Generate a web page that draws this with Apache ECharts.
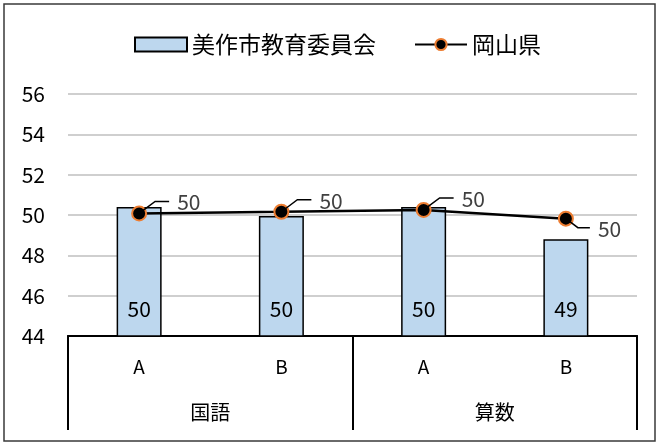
<!DOCTYPE html>
<html>
<head>
<meta charset="utf-8">
<script src="https://cdn.jsdelivr.net/npm/echarts@6/dist/echarts.min.js"></script>
<style>html,body{margin:0;padding:0;background:#fff}#c{width:659px;height:444px}</style>
</head>
<body>
<div id="c"></div>
<script>
var subCategories = ['A', 'B', 'A', 'B'];
var groupCategories = ['国語', '算数'];
var barName = '美作市教育委員会';
var lineName = '岡山県';
var barValues = [50.4, 49.95, 50.4, 48.8];
var lineValues = [50.08, 50.16, 50.25, 49.82];
var yTicks = { min: 44, max: 56, interval: 2 };

var FONT = '"Noto Sans CJK JP", "Noto Sans", sans-serif';
var chart = echarts.init(document.getElementById('c'), null, { renderer: 'canvas' });

function leaderItem(params, api) {
  var idx = api.value(0);
  var val = api.value(1);
  var p = api.coord([idx, val]);
  var below = params.dataIndex === 3;
  var pts, tx, ty;
  if (below) {
    pts = [[p[0] + 4, p[1] + 3], [p[0] + 12, p[1] + 9], [p[0] + 24, p[1] + 9]];
    tx = p[0] + 32; ty = p[1] + 10;
  } else {
    pts = [[p[0] + 4, p[1] - 3], [p[0] + 16, p[1] - 12], [p[0] + 30, p[1] - 12]];
    tx = p[0] + 38; ty = p[1] - 11;
  }
  return {
    type: 'group',
    children: [{
      type: 'polyline', shape: { points: pts },
      style: { stroke: '#000', lineWidth: 1.5, fill: null }
    }, {
      type: 'text', x: tx, y: ty,
      style: {
        text: String(Math.round(val)), fill: '#404040',
        font: '21px ' + FONT, textAlign: 'left', textVerticalAlign: 'middle'
      }
    }]
  };
}

chart.setOption({
  animation: false,
  backgroundColor: '#fff',
  textStyle: { fontFamily: FONT },
  graphic: [{
    type: 'rect', shape: { x: 4, y: 4, width: 651, height: 437 },
    style: { fill: 'none', stroke: '#3a3a3a', lineWidth: 1.5 }, z: 100, silent: true
  }],
  legend: {
    left: 129, top: 28,
    itemWidth: 52, itemHeight: 14, itemGap: 38,
    textStyle: { fontSize: 23, color: '#000', fontFamily: FONT },
    data: [{ name: barName, icon: 'rect' }, { name: lineName }]
  },
  grid: { left: 68, right: 22, top: 94, bottom: 108 },
  xAxis: [{
    type: 'category', data: subCategories, position: 'bottom',
    axisLine: { show: true, lineStyle: { color: '#000', width: 2 } },
    axisTick: { show: false },
    axisLabel: { margin: 21, fontSize: 19, color: '#000', fontFamily: FONT }
  }, {
    type: 'category', data: groupCategories, position: 'bottom',
    axisLine: { show: true, lineStyle: { color: '#000', width: 2 } },
    axisTick: { show: true, length: 94, interval: 0, lineStyle: { color: '#000', width: 2 } },
    axisLabel: { margin: 66, fontSize: 20, color: '#000', fontFamily: FONT }
  }],
  yAxis: {
    type: 'value', min: yTicks.min, max: yTicks.max, interval: yTicks.interval,
    axisLine: { show: false }, axisTick: { show: false },
    axisLabel: { margin: 23, fontSize: 21, color: '#000', fontFamily: FONT },
    splitLine: { lineStyle: { color: '#bfbfbf', width: 1.5 } }
  },
  series: [{
    name: barName, type: 'bar', xAxisIndex: 0, data: barValues, barWidth: 45,
    itemStyle: { color: '#bdd7ee', borderColor: '#000', borderWidth: 1.5 },
    label: {
      show: true, position: 'insideBottom', distance: 17, fontSize: 21, color: '#000',
      fontFamily: FONT,
      formatter: function (p) { return Math.round(p.value); }
    },
    z: 2
  }, {
    name: lineName, type: 'line', xAxisIndex: 0, data: lineValues,
    lineStyle: { color: '#000', width: 2.5 },
    symbol: 'circle', symbolSize: 14,
    itemStyle: { color: '#000', borderColor: '#ed7d31', borderWidth: 2 },
    label: { show: false },
    z: 5
  }, {
    name: 'lineLabels', type: 'custom', xAxisIndex: 0,
    data: lineValues.map(function (v, i) { return [i, v]; }),
    encode: { x: 0, y: 1 },
    renderItem: leaderItem,
    z: 6, silent: true
  }]
});
</script>
</body>
</html>
